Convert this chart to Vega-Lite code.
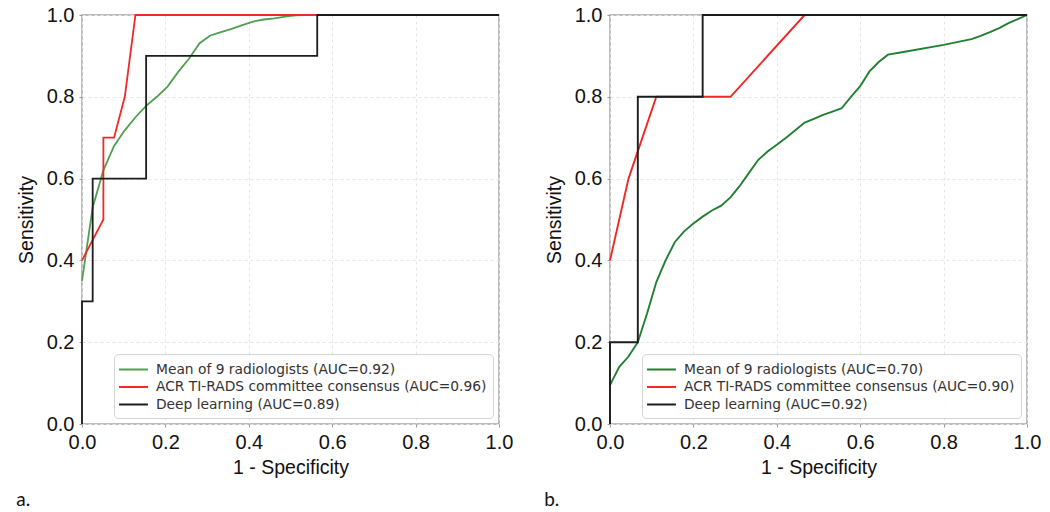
{
  "$schema": "https://vega.github.io/schema/vega-lite/v6.json",
  "background": "white",
  "padding": {"left": 15, "top": 4, "right": 0, "bottom": 0},
  "spacing": 29,
  "datasets": {
    "a": [
      {"s": "Mean of 9 radiologists (AUC=0.92)", "i": 0, "x": 0, "y": 0.35},
      {"s": "Mean of 9 radiologists (AUC=0.92)", "i": 1, "x": 0.0256, "y": 0.53},
      {"s": "Mean of 9 radiologists (AUC=0.92)", "i": 2, "x": 0.0513, "y": 0.62},
      {"s": "Mean of 9 radiologists (AUC=0.92)", "i": 3, "x": 0.0769, "y": 0.68},
      {"s": "Mean of 9 radiologists (AUC=0.92)", "i": 4, "x": 0.1026, "y": 0.718},
      {"s": "Mean of 9 radiologists (AUC=0.92)", "i": 5, "x": 0.1282, "y": 0.75},
      {"s": "Mean of 9 radiologists (AUC=0.92)", "i": 6, "x": 0.1538, "y": 0.778},
      {"s": "Mean of 9 radiologists (AUC=0.92)", "i": 7, "x": 0.1795, "y": 0.8},
      {"s": "Mean of 9 radiologists (AUC=0.92)", "i": 8, "x": 0.2051, "y": 0.825},
      {"s": "Mean of 9 radiologists (AUC=0.92)", "i": 9, "x": 0.2308, "y": 0.861},
      {"s": "Mean of 9 radiologists (AUC=0.92)", "i": 10, "x": 0.2564, "y": 0.893},
      {"s": "Mean of 9 radiologists (AUC=0.92)", "i": 11, "x": 0.2821, "y": 0.931},
      {"s": "Mean of 9 radiologists (AUC=0.92)", "i": 12, "x": 0.3077, "y": 0.95},
      {"s": "Mean of 9 radiologists (AUC=0.92)", "i": 13, "x": 0.3333, "y": 0.958},
      {"s": "Mean of 9 radiologists (AUC=0.92)", "i": 14, "x": 0.359, "y": 0.966},
      {"s": "Mean of 9 radiologists (AUC=0.92)", "i": 15, "x": 0.3846, "y": 0.975},
      {"s": "Mean of 9 radiologists (AUC=0.92)", "i": 16, "x": 0.4103, "y": 0.984},
      {"s": "Mean of 9 radiologists (AUC=0.92)", "i": 17, "x": 0.4359, "y": 0.989},
      {"s": "Mean of 9 radiologists (AUC=0.92)", "i": 18, "x": 0.4615, "y": 0.992},
      {"s": "Mean of 9 radiologists (AUC=0.92)", "i": 19, "x": 0.4872, "y": 0.996},
      {"s": "Mean of 9 radiologists (AUC=0.92)", "i": 20, "x": 0.5128, "y": 0.999},
      {"s": "Mean of 9 radiologists (AUC=0.92)", "i": 21, "x": 0.5385, "y": 1.0},
      {"s": "Mean of 9 radiologists (AUC=0.92)", "i": 22, "x": 1.0, "y": 1.0},
      {"s": "ACR TI-RADS committee consensus (AUC=0.96)", "i": 0, "x": 0, "y": 0.4},
      {"s": "ACR TI-RADS committee consensus (AUC=0.96)", "i": 1, "x": 0.0513, "y": 0.5},
      {"s": "ACR TI-RADS committee consensus (AUC=0.96)", "i": 2, "x": 0.0513, "y": 0.7},
      {"s": "ACR TI-RADS committee consensus (AUC=0.96)", "i": 3, "x": 0.0769, "y": 0.7},
      {"s": "ACR TI-RADS committee consensus (AUC=0.96)", "i": 4, "x": 0.1026, "y": 0.8},
      {"s": "ACR TI-RADS committee consensus (AUC=0.96)", "i": 5, "x": 0.1282, "y": 1.0},
      {"s": "ACR TI-RADS committee consensus (AUC=0.96)", "i": 6, "x": 1.0, "y": 1.0},
      {"s": "Deep learning (AUC=0.89)", "i": 0, "x": 0, "y": 0},
      {"s": "Deep learning (AUC=0.89)", "i": 1, "x": 0, "y": 0.3},
      {"s": "Deep learning (AUC=0.89)", "i": 2, "x": 0.0256, "y": 0.3},
      {"s": "Deep learning (AUC=0.89)", "i": 3, "x": 0.0256, "y": 0.6},
      {"s": "Deep learning (AUC=0.89)", "i": 4, "x": 0.1538, "y": 0.6},
      {"s": "Deep learning (AUC=0.89)", "i": 5, "x": 0.1538, "y": 0.9},
      {"s": "Deep learning (AUC=0.89)", "i": 6, "x": 0.5641, "y": 0.9},
      {"s": "Deep learning (AUC=0.89)", "i": 7, "x": 0.5641, "y": 1.0},
      {"s": "Deep learning (AUC=0.89)", "i": 8, "x": 1.0, "y": 1.0}
    ],
    "b": [
      {"s": "Mean of 9 radiologists (AUC=0.70)", "i": 0, "x": 0, "y": 0.095},
      {"s": "Mean of 9 radiologists (AUC=0.70)", "i": 1, "x": 0.0222, "y": 0.14},
      {"s": "Mean of 9 radiologists (AUC=0.70)", "i": 2, "x": 0.0444, "y": 0.165},
      {"s": "Mean of 9 radiologists (AUC=0.70)", "i": 3, "x": 0.0667, "y": 0.2},
      {"s": "Mean of 9 radiologists (AUC=0.70)", "i": 4, "x": 0.0889, "y": 0.27},
      {"s": "Mean of 9 radiologists (AUC=0.70)", "i": 5, "x": 0.1111, "y": 0.347},
      {"s": "Mean of 9 radiologists (AUC=0.70)", "i": 6, "x": 0.1333, "y": 0.4},
      {"s": "Mean of 9 radiologists (AUC=0.70)", "i": 7, "x": 0.1556, "y": 0.445},
      {"s": "Mean of 9 radiologists (AUC=0.70)", "i": 8, "x": 0.1778, "y": 0.471},
      {"s": "Mean of 9 radiologists (AUC=0.70)", "i": 9, "x": 0.2, "y": 0.49},
      {"s": "Mean of 9 radiologists (AUC=0.70)", "i": 10, "x": 0.2222, "y": 0.507},
      {"s": "Mean of 9 radiologists (AUC=0.70)", "i": 11, "x": 0.2444, "y": 0.522},
      {"s": "Mean of 9 radiologists (AUC=0.70)", "i": 12, "x": 0.2667, "y": 0.534},
      {"s": "Mean of 9 radiologists (AUC=0.70)", "i": 13, "x": 0.2889, "y": 0.554},
      {"s": "Mean of 9 radiologists (AUC=0.70)", "i": 14, "x": 0.3111, "y": 0.582},
      {"s": "Mean of 9 radiologists (AUC=0.70)", "i": 15, "x": 0.3333, "y": 0.614},
      {"s": "Mean of 9 radiologists (AUC=0.70)", "i": 16, "x": 0.3556, "y": 0.646},
      {"s": "Mean of 9 radiologists (AUC=0.70)", "i": 17, "x": 0.3778, "y": 0.666},
      {"s": "Mean of 9 radiologists (AUC=0.70)", "i": 18, "x": 0.4, "y": 0.683},
      {"s": "Mean of 9 radiologists (AUC=0.70)", "i": 19, "x": 0.4222, "y": 0.7},
      {"s": "Mean of 9 radiologists (AUC=0.70)", "i": 20, "x": 0.4444, "y": 0.718},
      {"s": "Mean of 9 radiologists (AUC=0.70)", "i": 21, "x": 0.4667, "y": 0.737},
      {"s": "Mean of 9 radiologists (AUC=0.70)", "i": 22, "x": 0.4889, "y": 0.746},
      {"s": "Mean of 9 radiologists (AUC=0.70)", "i": 23, "x": 0.5111, "y": 0.756},
      {"s": "Mean of 9 radiologists (AUC=0.70)", "i": 24, "x": 0.5333, "y": 0.764},
      {"s": "Mean of 9 radiologists (AUC=0.70)", "i": 25, "x": 0.5556, "y": 0.772},
      {"s": "Mean of 9 radiologists (AUC=0.70)", "i": 26, "x": 0.5778, "y": 0.8},
      {"s": "Mean of 9 radiologists (AUC=0.70)", "i": 27, "x": 0.6, "y": 0.826},
      {"s": "Mean of 9 radiologists (AUC=0.70)", "i": 28, "x": 0.6222, "y": 0.862},
      {"s": "Mean of 9 radiologists (AUC=0.70)", "i": 29, "x": 0.6444, "y": 0.885},
      {"s": "Mean of 9 radiologists (AUC=0.70)", "i": 30, "x": 0.6667, "y": 0.903},
      {"s": "Mean of 9 radiologists (AUC=0.70)", "i": 31, "x": 0.7, "y": 0.909},
      {"s": "Mean of 9 radiologists (AUC=0.70)", "i": 32, "x": 0.8, "y": 0.927},
      {"s": "Mean of 9 radiologists (AUC=0.70)", "i": 33, "x": 0.8667, "y": 0.941},
      {"s": "Mean of 9 radiologists (AUC=0.70)", "i": 34, "x": 0.8889, "y": 0.949},
      {"s": "Mean of 9 radiologists (AUC=0.70)", "i": 35, "x": 0.9111, "y": 0.958},
      {"s": "Mean of 9 radiologists (AUC=0.70)", "i": 36, "x": 0.9333, "y": 0.968},
      {"s": "Mean of 9 radiologists (AUC=0.70)", "i": 37, "x": 0.9556, "y": 0.98},
      {"s": "Mean of 9 radiologists (AUC=0.70)", "i": 38, "x": 0.9778, "y": 0.99},
      {"s": "Mean of 9 radiologists (AUC=0.70)", "i": 39, "x": 1.0, "y": 1.0},
      {"s": "ACR TI-RADS committee consensus (AUC=0.90)", "i": 0, "x": 0, "y": 0.4},
      {"s": "ACR TI-RADS committee consensus (AUC=0.90)", "i": 1, "x": 0.0444, "y": 0.6},
      {"s": "ACR TI-RADS committee consensus (AUC=0.90)", "i": 2, "x": 0.1111, "y": 0.8},
      {"s": "ACR TI-RADS committee consensus (AUC=0.90)", "i": 3, "x": 0.2889, "y": 0.8},
      {"s": "ACR TI-RADS committee consensus (AUC=0.90)", "i": 4, "x": 0.4667, "y": 1.0},
      {"s": "ACR TI-RADS committee consensus (AUC=0.90)", "i": 5, "x": 1.0, "y": 1.0},
      {"s": "Deep learning (AUC=0.92)", "i": 0, "x": 0, "y": 0},
      {"s": "Deep learning (AUC=0.92)", "i": 1, "x": 0, "y": 0.2},
      {"s": "Deep learning (AUC=0.92)", "i": 2, "x": 0.0667, "y": 0.2},
      {"s": "Deep learning (AUC=0.92)", "i": 3, "x": 0.0667, "y": 0.8},
      {"s": "Deep learning (AUC=0.92)", "i": 4, "x": 0.2222, "y": 0.8},
      {"s": "Deep learning (AUC=0.92)", "i": 5, "x": 0.2222, "y": 1.0},
      {"s": "Deep learning (AUC=0.92)", "i": 6, "x": 1.0, "y": 1.0}
    ]
  },
  "resolve": {"scale": {"color": "independent", "x": "independent", "y": "independent"}, "legend": {"color": "independent"}},
  "hconcat": [
    {
      "width": 417,
      "height": 409,
      "title": {"text": "a.", "orient": "bottom", "anchor": "start", "offset": 14},
      "layer": [
        {
          "mark": {"type": "rule", "color": "#b4b4b4", "strokeWidth": 0.8, "strokeDash": [2, 2]},
          "encoding": {
            "x": {"datum": 0, "type": "quantitative", "scale": {"domain": [0, 1], "nice": false}, "axis": {"values": [0, 0.2, 0.4, 0.6, 0.8, 1], "format": ".1f", "title": "1 - Specificity", "titlePadding": 6}},
            "y": {"datum": 0, "type": "quantitative", "scale": {"domain": [0, 1], "nice": false}, "axis": {"values": [0, 0.2, 0.4, 0.6, 0.8, 1], "format": ".1f", "title": "Sensitivity"}},
            "x2": {"datum": 1},
            "y2": {"datum": 1}
          }
        },
        {
          "data": {"name": "a"},
          "mark": {"type": "line", "strokeWidth": 1.8},
          "encoding": {
            "x": {"field": "x", "type": "quantitative", "scale": {"domain": [0, 1], "nice": false}, "axis": {"values": [0, 0.2, 0.4, 0.6, 0.8, 1], "format": ".1f", "title": "1 - Specificity", "titlePadding": 6}},
            "y": {"field": "y", "type": "quantitative", "scale": {"domain": [0, 1], "nice": false}, "axis": {"values": [0, 0.2, 0.4, 0.6, 0.8, 1], "format": ".1f", "title": "Sensitivity"}},
            "color": {
              "field": "s", "type": "nominal",
              "scale": {"domain": ["Mean of 9 radiologists (AUC=0.92)", "ACR TI-RADS committee consensus (AUC=0.96)", "Deep learning (AUC=0.89)"], "range": ["#519e51", "#f02828", "#1c1c1c"]},
              "legend": {"title": null}
            },
            "order": {"field": "i", "type": "quantitative"}
          }
        }
      ]
    },
    {
      "width": 417,
      "height": 409,
      "title": {"text": "b.", "orient": "bottom", "anchor": "start", "offset": 14},
      "layer": [
        {
          "mark": {"type": "rule", "color": "#b4b4b4", "strokeWidth": 0.8, "strokeDash": [2, 2]},
          "encoding": {
            "x": {"datum": 0, "type": "quantitative", "scale": {"domain": [0, 1], "nice": false}, "axis": {"values": [0, 0.2, 0.4, 0.6, 0.8, 1], "format": ".1f", "title": "1 - Specificity", "titlePadding": 6}},
            "y": {"datum": 0, "type": "quantitative", "scale": {"domain": [0, 1], "nice": false}, "axis": {"values": [0, 0.2, 0.4, 0.6, 0.8, 1], "format": ".1f", "title": "Sensitivity"}},
            "x2": {"datum": 1},
            "y2": {"datum": 1}
          }
        },
        {
          "data": {"name": "b"},
          "mark": {"type": "line", "strokeWidth": 1.9},
          "encoding": {
            "x": {"field": "x", "type": "quantitative", "scale": {"domain": [0, 1], "nice": false}, "axis": {"values": [0, 0.2, 0.4, 0.6, 0.8, 1], "format": ".1f", "title": "1 - Specificity", "titlePadding": 6}},
            "y": {"field": "y", "type": "quantitative", "scale": {"domain": [0, 1], "nice": false}, "axis": {"values": [0, 0.2, 0.4, 0.6, 0.8, 1], "format": ".1f", "title": "Sensitivity"}},
            "color": {
              "field": "s", "type": "nominal",
              "scale": {"domain": ["Mean of 9 radiologists (AUC=0.70)", "ACR TI-RADS committee consensus (AUC=0.90)", "Deep learning (AUC=0.92)"], "range": ["#217f31", "#f02828", "#1c1c1c"]},
              "legend": {"title": null}
            },
            "order": {"field": "i", "type": "quantitative"}
          }
        }
      ]
    }
  ],
  "config": {
    "view": {"stroke": "#a6a6a6", "strokeWidth": 1.5},
    "axis": {
      "domain": false,
      "grid": true,
      "gridColor": "#e6e6e6",
      "gridDash": [3, 3],
      "gridWidth": 1,
      "ticks": true,
      "tickSize": 3,
      "tickColor": "#999999",
      "labelFont": "Liberation Sans",
      "labelFontSize": 20,
      "labelColor": "#111111",
      "labelPadding": 5,
      "labelFlush": false,
      "labelOverlap": false,
      "titleFont": "Liberation Sans",
      "titleFontSize": 19.5,
      "titleFontWeight": "normal",
      "titleColor": "#111111",
      "titlePadding": 10
    },
    "legend": {
      "orient": "bottom-right",
      "offset": 6,
      "padding": 6,
      "labelFont": "DejaVu Sans",
      "labelFontSize": 13.8,
      "labelColor": "#333333",
      "labelLimit": 500,
      "strokeColor": "#d4d4d4",
      "fillColor": "rgba(255,255,255,0.85)",
      "cornerRadius": 4,
      "symbolType": "M-1.7,0H1.7",
      "symbolSize": 289,
      "symbolStrokeWidth": 2,
      "symbolOffset": 4,
      "labelOffset": 13,
      "rowPadding": 0.5
    },
    "title": {
      "font": "Lato",
      "fontSize": 19,
      "fontWeight": "normal",
      "color": "#111111"
    }
  }
}
